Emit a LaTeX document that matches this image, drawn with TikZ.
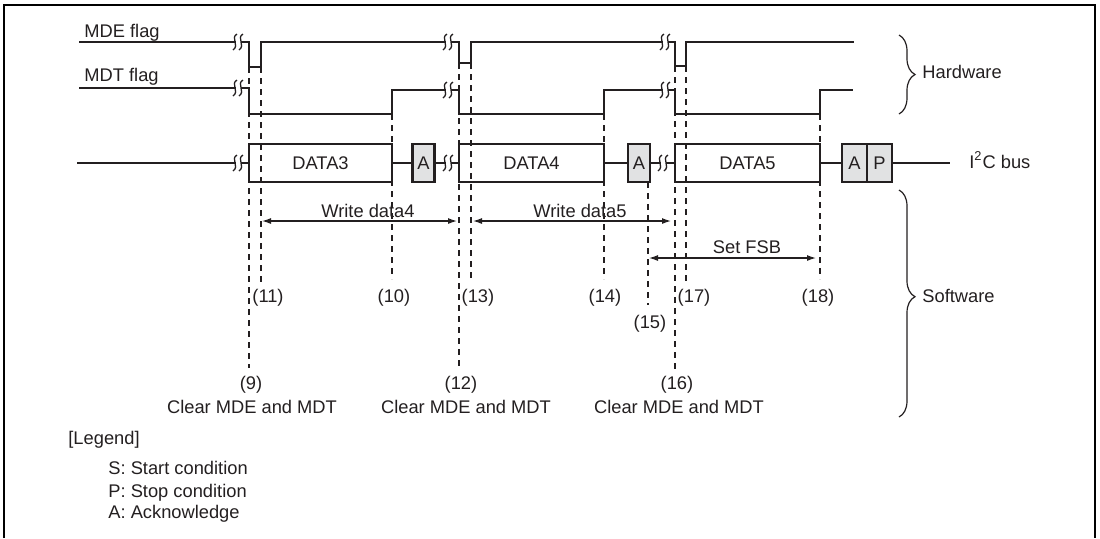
\documentclass[tikz,border=0pt]{standalone}
\usepackage{fontspec}
\setmainfont{Liberation Sans}
\usepackage{xcolor}
\usetikzlibrary{arrows.meta,decorations.pathreplacing}
\definecolor{inkdark}{HTML}{231F20}
\definecolor{ackgray}{HTML}{E1E2E3}
\tikzset{
    label/.style={
        inner sep=0pt, anchor=base, text=inkdark,
        font=\fontsize{9.15}{11}\selectfont
    },
    leftlabel/.style={label, anchor=base west},
    signal/.style={draw=inkdark, line width=1.2pt, line join=miter},
    databox/.style={
        rectangle, draw=inkdark, line width=1.2pt, outer sep=0pt, inner sep=0pt,
        minimum height=19pt, text=inkdark,
        font=\fontsize{9.15}{11}\selectfont
    },
    ackbox/.style={databox, fill=ackgray, minimum width=11pt},
    guide/.style={draw=inkdark, line width=0.6pt, dash pattern=on 2.9pt off 2.6pt},
    span/.style={draw=inkdark, line width=0.6pt, {Latex[length=4.5pt,width=3pt]}-{Latex[length=4.5pt,width=3pt]}},
    curly/.style={draw=inkdark, line width=0.6pt, decorate},
    breakmark/.pic={
        \fill[white] (-2.5,-8) rectangle (2.5,8);
        \draw[inkdark, line width=0.65pt] (-1,-8) .. controls (-8,-4) and (2,3) .. (-5,8);
        \draw[inkdark, line width=0.65pt] (5,-8) .. controls (-2,-4) and (8,3) .. (1,8);
    }
}
\begin{document}
\begin{tikzpicture}[x=0.5pt,y=-0.5pt]
\useasboundingbox (0,0) rectangle (1100,538);

% Frame
\draw[black, line width=1.1pt] (4,538) -- (4,5) -- (1095,5) -- (1095,538);

% Dashed guides
\foreach \tx/\ty/\tend in {249/67/368, 261/67/283, 392/114/279, 459/63/367, 471/63/282,
    604/114/279, 648/182/305, 675/66/370, 686/66/283, 820/114/279}
    \draw[guide] (\tx,\ty) -- (\tx,\tend);

% MDE flag
\draw[signal] (79,42) -- (249,42) -- (249,67) -- (261,67) -- (261,42) -- (459,42) -- (459,63)
    -- (471,63) -- (471,42) -- (675,42) -- (675,66) -- (686,66) -- (686,42) -- (854,42);
% MDT flag
\draw[signal] (79,88) -- (249,88) -- (249,114) -- (392,114) -- (392,90) -- (459,90) -- (459,114)
    -- (604,114) -- (604,90) -- (675,90) -- (675,114) -- (820,114) -- (820,90) -- (853,90);

% Bus
\node[databox, minimum width=71.5pt] (data3) at (320.5,163) {DATA3};
\node[ackbox] (ack3) at (423.5,163) {A};
\node[databox, minimum width=72.5pt] (data4) at (531.5,163) {DATA4};
\node[ackbox] (ack4) at (639,163) {A};
\node[databox, minimum width=72.5pt] (data5) at (747.5,163) {DATA5};
\node[ackbox, minimum width=12.5pt] (ack5) at (854.5,163) {A};
\node[ackbox, minimum width=12.5pt] (stop) at (879.5,163) {P};
\coordinate (busstart) at (77,163);
\coordinate (busend) at (950,163);
\draw[signal] (busstart) -- (data3);
\draw[signal] (data3) -- (ack3);
\draw[signal] (ack3) -- (data4);
\draw[signal] (data4) -- (ack4);
\draw[signal] (ack4) -- (data5);
\draw[signal] (data5) -- (ack5);
\draw[signal] (stop) -- (busend);

% Breaks
\foreach \tx/\ty in {238/42, 238/88, 238/163, 448/42, 448/90, 448/163, 665/42, 665/90, 663/163}
    \pic at (\tx,\ty) {breakmark};

% Flag and group names
\node[leftlabel] (mde) at (84,37) {MDE flag};
\node[leftlabel] (mdt) at (84,81) {MDT flag};
\node[leftlabel] (hardware) at (922,78) {Hardware};
\node[leftlabel] (software) at (922,302) {Software};
\node[leftlabel] (bus) at (969,168) {I\textsuperscript{2}C bus};

% Write spans
\coordinate (w4a) at (262,221); \coordinate (w4b) at (457,221);
\coordinate (w5a) at (473,221); \coordinate (w5b) at (671,221);
\coordinate (fsba) at (649,258); \coordinate (fsbb) at (816,258);
\draw[span] (w4a) -- (w4b);
\draw[span] (w5a) -- (w5b);
\draw[span] (fsba) -- (fsbb);
\node[label] (wd4) at (368,217) {Write data4};
\node[label] (wd5) at (580,217) {Write data5};
\node[label] (fsb) at (747,253) {Set FSB};

% Step numbers
\foreach \name/\tx/\ty/\txt in {n11/268/302/11, n10/394/302/10, n13/478/302/13, n14/605/302/14,
    n15/650/328/15, n17/694/302/17, n18/818/302/18, n9/251/389/9, n12/461/389/12, n16/677/389/16}
    \node[label] (\name) at (\tx,\ty) {(\txt)};
\foreach \name/\tx in {clear9/252, clear12/466, clear16/679}
    \node[label] (\name) at (\tx,413) {Clear MDE and MDT};

% Braces
\coordinate (hwtop) at (899,35); \coordinate (hwbot) at (899,114);
\coordinate (swtop) at (899,190); \coordinate (swbot) at (899,417);
\draw[curly, decoration={brace,amplitude=8pt}] (hwtop) -- (hwbot);
\draw[curly, decoration={brace,amplitude=8pt,aspect=0.47}] (swtop) -- (swbot);

% Legend
\node[leftlabel] (legend) at (68,444) {[Legend]};
\node[leftlabel] (legs) at (108,474) {S: Start condition};
\node[leftlabel] (legp) at (108,497) {P: Stop condition};
\node[leftlabel] (lega) at (108,518) {A: Acknowledge};

\end{tikzpicture}
\end{document}
